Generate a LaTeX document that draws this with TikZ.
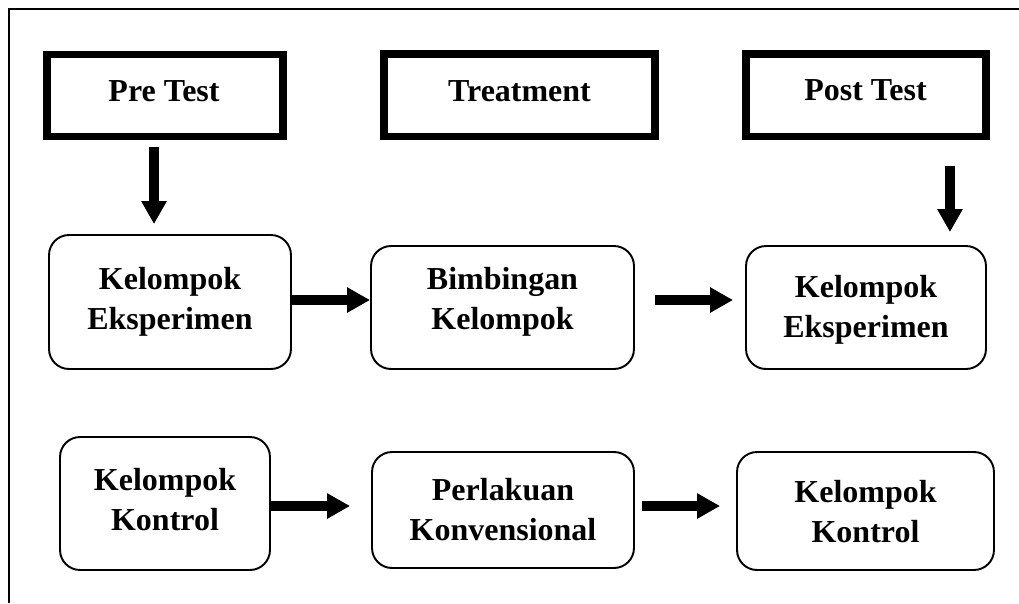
\documentclass[tikz,border=0pt]{standalone}
\usepackage{fontspec}
\setmainfont{Liberation Serif}
\usetikzlibrary{arrows.meta}

\begin{document}
\begin{tikzpicture}[x=0.02cm, y=-0.02cm,
    tbox/.style={draw, line width=0.15cm, minimum height=1.65cm, inner sep=0pt},
    gbox/.style={draw, rounded corners=0.4cm, line width=1.1pt, inner sep=0pt},
    lbl/.style={font=\fontsize{18.2}{22.7}\selectfont\bfseries, align=center, inner sep=0pt, anchor=north},
    arr/.style={line width=0.2cm, -{Triangle[width=0.48cm, length=0.46cm]}}]
  \useasboundingbox (0,0) rectangle (1019,603);
  % bingkai luar
  \draw[line width=1.1pt] (1019,9) -- (9,9) -- (9,603);
  % baris atas: tahap
  \node[tbox, minimum width=4.73cm] (pre) at (165,95.5) {};
  \node[tbox, minimum width=5.43cm] (treat) at (519.5,95) {};
  \node[tbox, minimum width=4.81cm] (post) at (866,95) {};
  \node[lbl] (tpre) at (164,80) {Pre Test};
  \node[lbl] (ttreat) at (519.5,80) {Treatment};
  \node[lbl] (tpost) at (865.5,79) {Post Test};
  % kelompok eksperimen
  \node[gbox, minimum width=4.84cm, minimum height=2.68cm] (eks1) at (170,302) {};
  \node[gbox, minimum width=5.26cm, minimum height=2.46cm] (bim) at (502.5,307.5) {};
  \node[gbox, minimum width=4.80cm, minimum height=2.46cm] (eks2) at (866,307.5) {};
  \node[lbl] (teks1) at (170,267) {Kelompok\\Eksperimen};
  \node[lbl] (tbim) at (502.5,267) {Bimbingan\\Kelompok};
  \node[lbl] (teks2) at (866,275) {Kelompok\\Eksperimen};
  % kelompok kontrol
  \node[gbox, minimum width=4.20cm, minimum height=2.66cm] (kon1) at (165,503.5) {};
  \node[gbox, minimum width=5.24cm, minimum height=2.32cm] (per) at (503,510) {};
  \node[gbox, minimum width=5.14cm, minimum height=2.36cm] (kon2) at (865.5,511) {};
  \node[lbl] (tkon1) at (165,468) {Kelompok\\Kontrol};
  \node[lbl] (tper) at (503,478) {Perlakuan\\Konvensional};
  \node[lbl] (tkon2) at (865.5,480) {Kelompok\\Kontrol};
  % panah
  \draw[arr, shorten <=0.14cm, shorten >=0.2cm] ([xshift=-0.22cm]pre.south) -- ([xshift=-0.22cm]pre.south |- eks1.north);
  \draw[arr, shorten <=0.52cm, shorten >=0.26cm] ([xshift=1.68cm]post.south) -- ([xshift=1.68cm]post.south |- eks2.north);
  \draw[arr] ([yshift=0.04cm]eks1.east) -- ([yshift=0.04cm]eks1.east -| bim.west);
  \draw[arr, shorten <=0.4cm, shorten >=0.24cm] ([yshift=0.15cm]bim.east) -- ([yshift=0.15cm]bim.east -| eks2.west);
  \draw[arr, shorten >=0.42cm] ([yshift=-0.05cm]kon1.east) -- ([yshift=-0.05cm]kon1.east -| per.west);
  \draw[arr, shorten <=0.14cm, shorten >=0.32cm] ([yshift=0.08cm]per.east) -- ([yshift=0.08cm]per.east -| kon2.west);
\end{tikzpicture}
\end{document}
